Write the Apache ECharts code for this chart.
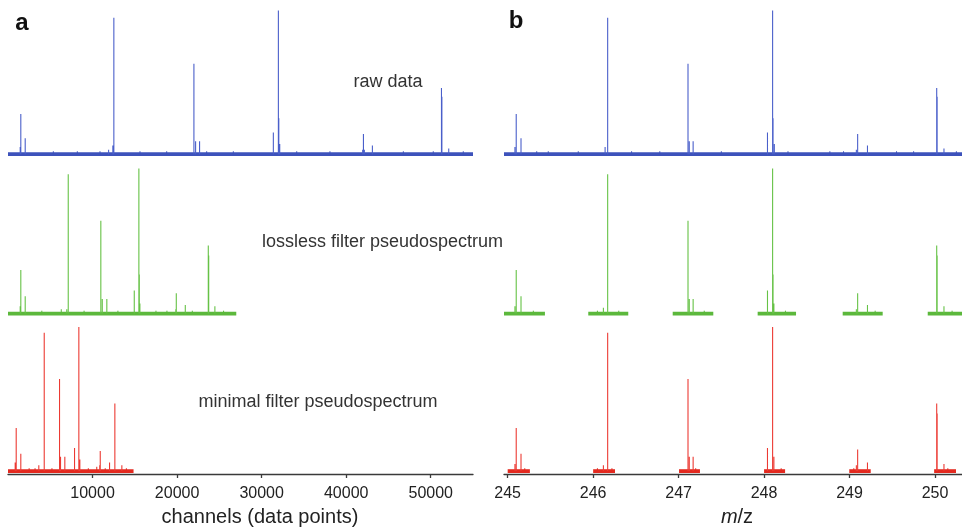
<!DOCTYPE html>
<html><head><meta charset="utf-8">
<script src="https://cdn.jsdelivr.net/npm/echarts@6/dist/echarts.min.js"></script>
<style>html,body{margin:0;padding:0;background:#fff}#c{width:962px;height:528px}</style>
</head><body><div id="c"></div>
<script>
// ---------------- data ----------------
const channelTicks = [10000, 20000, 30000, 40000, 50000];
const mzTicks = [245, 246, 247, 248, 249, 250];
const channelRange = [0, 55000];
const mzRange = [244.957, 250.316];

// [channel, relative intensity]
const rawChannelPeaks = [[1444,5],[1515,28],[2035,11],[11900,3],[12400,6],[12520,95],[21990,63],[22190,9],[22660,9],[31385,15],[31980,100],[32030,25],[32140,7],[41950,3],[42040,14],[42150,3],[43100,6],[51270,46],[51320,40],[52130,4]];
const rawChannelNoise = [[5360,2],[8200,2],[10880,2],[15610,2],[18770,2],[23500,2],[26650,2],[34150,2],[38080,2],[46760,2],[50300,2],[53850,2]];
const rawChannelSpans = [[0,55000]];

const losslessChannelPeaks = [[1444,5],[1515,30],[2035,12],[6950,3],[7125,96],[10980,64],[11150,10],[11690,10],[14935,16],[15480,100],[15530,27],[15600,7],[19850,3],[19905,14],[20970,6],[23690,47],[23740,40],[24470,5]];
const losslessChannelNoise = [[4000,2],[6300,3],[9000,2],[13000,2],[17500,2],[18800,2],[21800,2],[25500,2]];
const losslessChannelSpans = [[0,27000]];

const minimalChannelPeaks = [[850,6],[970,30],[1515,12],[3645,4],[4285,96],[6095,64],[6213,10],[6722,10],[7870,16],[8380,100],[8497,8],[10850,4],[10911,14],[12012,6],[12639,47],[13467,4]];
const minimalChannelNoise = [[2500,2],[3200,2],[5200,2],[9500,2],[10500,3],[11500,2],[14000,2]];
const minimalChannelSpans = [[0,14850]];

// [m/z, relative intensity]
const rawMzPeaks = [[245.085,5],[245.10,28],[245.156,11],[246.14,5],[246.17,95],[247.11,63],[247.125,9],[247.17,9],[248.04,15],[248.10,100],[248.105,25],[248.12,7],[249.08,3],[249.095,14],[249.21,6],[250.02,46],[250.025,40],[250.105,4]];
const rawMzNoise = [[245.34,2],[245.475,2],[245.826,2],[246.45,2],[246.78,2],[247.5,2],[248.28,2],[248.77,2],[248.93,2],[249.55,2],[249.75,2],[250.25,2]];
const rawMzSpans = [[244.957,250.316]];

const losslessMzPeaks = [[245.085,5],[245.10,30],[245.156,12],[246.12,4],[246.17,96],[247.11,64],[247.125,10],[247.17,10],[248.04,16],[248.10,100],[248.105,27],[248.115,7],[249.08,3],[249.095,14],[249.21,6],[250.02,47],[250.025,40],[250.105,5]];
const losslessMzNoise = [[245.3,2],[246.05,2],[246.3,2],[247.3,2],[248.25,2],[249.3,2],[250.2,2]];
const losslessMzSpans = [[244.957,245.436],[245.943,246.411],[246.931,247.406],[247.925,248.374],[248.92,249.388],[249.915,250.316]];

const minimalMzPeaks = [[245.085,5],[245.10,30],[245.156,12],[246.12,4],[246.17,96],[247.11,64],[247.125,10],[247.17,10],[248.04,16],[248.10,100],[248.115,10],[249.08,4],[249.095,15],[249.21,6],[250.02,47],[250.025,40],[250.105,5]];
const minimalMzNoise = [[245.2,2],[246.05,2],[246.22,2],[247.2,2],[248.2,2],[249.05,2],[250.15,2]];
const minimalMzSpans = [[245.0,245.26],[246.0,246.256],[247.005,247.25],[248.0,248.246],[248.997,249.248],[249.99,250.246]];

// ---------------- build ----------------
const colors = {
  raw: {base:'#3d52bb', peak:'#4a5fca'},
  lossless: {base:'#5cb83c', peak:'#66c246'},
  minimal: {base:'#e3291f', peak:'#ec3a33'}
};

// each peak is its own vertical stick: [x,0] -> [x,h], then a break
function sticks(peaks){
  const s = peaks.slice().sort((a,b)=>a[0]-b[0]);
  const d = [];
  s.forEach(p=>{ d.push([p[0],0],[p[0],p[1]],[p[0],'-']); });
  return d;
}

const rowsTop = [10.5, 168.5, 327];
const rowsH = [146.5, 148, 147];
const grids = [], xAxes = [], yAxes = [], series = [];

const panels = [
  {row:0,col:0,peaks:rawChannelPeaks,noise:rawChannelNoise,spans:rawChannelSpans,c:colors.raw},
  {row:0,col:1,peaks:rawMzPeaks,noise:rawMzNoise,spans:rawMzSpans,c:colors.raw},
  {row:1,col:0,peaks:losslessChannelPeaks,noise:losslessChannelNoise,spans:losslessChannelSpans,c:colors.lossless},
  {row:1,col:1,peaks:losslessMzPeaks,noise:losslessMzNoise,spans:losslessMzSpans,c:colors.lossless},
  {row:2,col:0,peaks:minimalChannelPeaks,noise:minimalChannelNoise,spans:minimalChannelSpans,c:colors.minimal},
  {row:2,col:1,peaks:minimalMzPeaks,noise:minimalMzNoise,spans:minimalMzSpans,c:colors.minimal}
];

const font = 'Liberation Sans, Arial, sans-serif';

panels.forEach((p,i)=>{
  grids.push({left: p.col===0 ? 8 : 504, width: p.col===0 ? 465 : 458, top: rowsTop[p.row], height: rowsH[p.row], containLabel:false});
  const isBottom = p.row===2;
  const range = p.col===0 ? channelRange : mzRange;
  const ticks = p.col===0 ? channelTicks : mzTicks;
  xAxes.push({
    type:'value', gridIndex:i, min:range[0], max:range[1], show:isBottom,
    splitLine:{show:false},
    axisLine:{show:true, onZero:false, lineStyle:{color:'#3a3a3a', width:1.3}},
    axisTick:{show:true, inside:false, length:4, lineStyle:{color:'#3a3a3a', width:1.3}, customValues: ticks},
    axisLabel:{show:true, margin:12, color:'#222', fontSize:16, fontFamily:font, customValues: ticks,
      formatter: v => String(v)}
  });
  yAxes.push({type:'value', gridIndex:i, min:-2, max:100, show:false});
  p.spans.forEach(s=>{
    series.push({type:'line', xAxisIndex:i, yAxisIndex:i, data:[[s[0],0],[s[1],0]], showSymbol:false, silent:true,
      lineStyle:{color:p.c.base, width:3.8}, z:2});
  });
  series.push({type:'line', xAxisIndex:i, yAxisIndex:i, data:sticks(p.noise), showSymbol:false, silent:true, connectNulls:false,
    lineStyle:{color:p.c.base, width:1}, z:3});
  series.push({type:'line', xAxisIndex:i, yAxisIndex:i, data:sticks(p.peaks), showSymbol:false, silent:true, connectNulls:false,
    lineStyle:{color:p.c.peak, width:1.1}, z:4});
});

const txt = (x,y,text,size,extra) => ({type:'text', style:Object.assign({x, y, text, fill:'#333', font: size+'px '+font, align:'center', verticalAlign:'middle'}, extra||{})});

const option = {
  animation:false,
  backgroundColor:'#fff',
  grid: grids, xAxis: xAxes, yAxis: yAxes, series: series,
  graphic: [
    txt(22, 23, 'a', 24, {font:'bold 24px '+font, fill:'#111'}),
    txt(516, 21, 'b', 24, {font:'bold 24px '+font, fill:'#111'}),
    txt(388, 82, 'raw data', 18),
    txt(382.5, 242, 'lossless filter pseudospectrum', 18),
    txt(318, 402, 'minimal filter pseudospectrum', 18),
    txt(260, 517, 'channels (data points)', 20, {fill:'#222'}),
    {type:'text', style:{x:737, y:517, text:'{i|m}/z', fill:'#222', font:'20px '+font, align:'center', verticalAlign:'middle',
      rich:{i:{fontStyle:'italic', fontSize:20, fontFamily:font, fill:'#222'}}}}
  ]
};
echarts.init(document.getElementById('c')).setOption(option);
</script>
</body></html>
